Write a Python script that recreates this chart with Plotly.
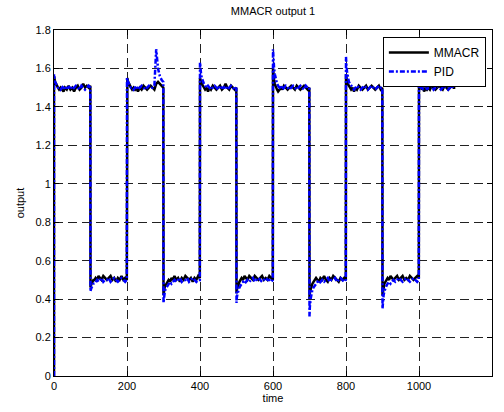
import plotly.graph_objects as go

# ---- data ----
SEG_START = [0, 100, 200, 300, 400, 500, 600, 700, 800, 900, 1000]
OFFSETS = [0, 1, 3, 5, 8, 11, 14, 18, 22, 26, 30, 35, 40, 45, 50, 55, 60, 65, 70, 75, 80, 85, 90, 95, 99.5]
INITIAL_VALUE = 0.0

MMACR = [
    [1.56,1.55,1.53,1.52,1.51,1.50,1.49,1.50,1.49,1.48,1.50,1.49,1.51,1.49,1.50,1.48,1.50,1.51,1.49,1.50,1.52,1.50,1.51,1.50,1.51],
    [0.46,0.47,0.48,0.49,0.50,0.50,0.51,0.50,0.52,0.51,0.50,0.52,0.51,0.50,0.51,0.52,0.50,0.51,0.49,0.51,0.50,0.52,0.50,0.51,0.50],
    [1.54,1.55,1.53,1.52,1.51,1.50,1.49,1.50,1.49,1.50,1.48,1.50,1.49,1.51,1.50,1.49,1.50,1.51,1.50,1.49,1.52,1.53,1.52,1.51,1.50],
    [0.42,0.44,0.46,0.47,0.48,0.49,0.50,0.49,0.51,0.50,0.52,0.50,0.51,0.49,0.51,0.50,0.52,0.51,0.50,0.51,0.49,0.51,0.50,0.52,0.51],
    [1.55,1.54,1.53,1.52,1.51,1.50,1.49,1.50,1.48,1.50,1.49,1.51,1.50,1.49,1.50,1.51,1.49,1.50,1.52,1.50,1.49,1.51,1.50,1.49,1.50],
    [0.43,0.45,0.46,0.48,0.49,0.50,0.51,0.50,0.52,0.51,0.50,0.52,0.51,0.50,0.52,0.51,0.50,0.51,0.52,0.50,0.51,0.50,0.52,0.51,0.50],
    [1.60,1.57,1.54,1.52,1.50,1.49,1.48,1.49,1.50,1.49,1.51,1.50,1.49,1.50,1.51,1.50,1.49,1.51,1.50,1.49,1.50,1.51,1.50,1.49,1.50],
    [0.40,0.43,0.45,0.47,0.48,0.49,0.50,0.51,0.50,0.49,0.51,0.50,0.52,0.50,0.49,0.51,0.50,0.52,0.51,0.50,0.49,0.51,0.50,0.51,0.50],
    [1.57,1.55,1.53,1.52,1.51,1.50,1.49,1.50,1.48,1.50,1.49,1.51,1.50,1.49,1.50,1.51,1.49,1.50,1.51,1.50,1.49,1.50,1.51,1.49,1.50],
    [0.42,0.44,0.46,0.48,0.49,0.50,0.51,0.50,0.52,0.51,0.50,0.51,0.52,0.50,0.51,0.52,0.50,0.51,0.50,0.52,0.51,0.50,0.51,0.52,0.51],
    [1.53,1.52,1.51,1.50,1.49,1.50,1.48,1.50,1.49,1.50,1.49,1.51,1.50,1.49,1.50,1.51,1.50,1.49,1.51,1.50,1.49,1.50,1.51,1.50,1.50],
]

PID = [
    [1.57,1.55,1.53,1.52,1.51,1.50,1.50,1.49,1.50,1.51,1.49,1.50,1.50,1.51,1.49,1.50,1.51,1.50,1.49,1.51,1.50,1.49,1.50,1.51,1.50],
    [0.44,0.45,0.46,0.47,0.48,0.48,0.49,0.50,0.49,0.50,0.51,0.49,0.50,0.50,0.51,0.49,0.50,0.51,0.50,0.49,0.50,0.51,0.50,0.49,0.50],
    [1.55,1.54,1.53,1.52,1.51,1.50,1.50,1.49,1.50,1.51,1.49,1.50,1.51,1.50,1.49,1.50,1.51,1.50,1.50,1.51,1.70,1.60,1.56,1.54,1.53],
    [0.38,0.41,0.43,0.45,0.46,0.47,0.48,0.49,0.48,0.49,0.50,0.49,0.50,0.51,0.49,0.50,0.50,0.51,0.49,0.50,0.51,0.50,0.49,0.50,0.50],
    [1.63,1.60,1.57,1.55,1.53,1.52,1.51,1.50,1.51,1.50,1.49,1.50,1.51,1.50,1.49,1.51,1.50,1.50,1.51,1.49,1.50,1.51,1.50,1.49,1.50],
    [0.38,0.41,0.43,0.45,0.46,0.47,0.48,0.49,0.48,0.49,0.50,0.49,0.50,0.51,0.49,0.50,0.51,0.50,0.49,0.50,0.51,0.50,0.50,0.49,0.50],
    [1.70,1.65,1.60,1.57,1.54,1.52,1.51,1.50,1.51,1.49,1.50,1.51,1.50,1.49,1.50,1.51,1.50,1.49,1.50,1.51,1.50,1.49,1.51,1.50,1.50],
    [0.31,0.36,0.40,0.43,0.45,0.46,0.47,0.48,0.49,0.48,0.49,0.50,0.49,0.50,0.51,0.49,0.50,0.50,0.51,0.49,0.50,0.51,0.50,0.49,0.50],
    [1.66,1.62,1.58,1.55,1.53,1.52,1.51,1.50,1.49,1.50,1.51,1.50,1.49,1.50,1.51,1.50,1.49,1.50,1.51,1.50,1.49,1.50,1.51,1.50,1.50],
    [0.35,0.39,0.42,0.44,0.46,0.47,0.48,0.49,0.48,0.49,0.50,0.49,0.50,0.51,0.50,0.49,0.50,0.51,0.50,0.49,0.50,0.51,0.50,0.49,0.50],
    [1.53,1.52,1.51,1.50,1.50,1.49,1.50,1.51,1.49,1.50,1.50,1.51,1.49,1.50,1.51,1.50,1.49,1.50,1.51,1.50,1.49,1.50,1.51,1.50,1.50],
]

X_TICKS = [0, 200, 400, 600, 800, 1000, 1200]
Y_TICKS = [0, 0.2, 0.4, 0.6, 0.8, 1, 1.2, 1.4, 1.6, 1.8]


def build(series):
    xs, ys = [0], [INITIAL_VALUE]
    for start, vals in zip(SEG_START, series):
        for off, v in zip(OFFSETS, vals):
            xs.append(start + off)
            ys.append(v)
    return xs, ys


FONT = "Liberation Sans, Arial, Helvetica, sans-serif"

fig = go.Figure()
x1, y1 = build(MMACR)
x2, y2 = build(PID)
fig.add_trace(go.Scatter(x=x1, y=y1, mode="lines", name="MMACR",
                         line=dict(color="black", width=2.5)))
fig.add_trace(go.Scatter(x=x2, y=y2, mode="lines", name="PID",
                         line=dict(color="#0000ff", width=2.5, dash="5px,2px,2px,2px")))

axis_common = dict(showline=True, linecolor="black", linewidth=1, mirror="ticks",
                   ticks="inside", ticklen=5, tickcolor="black", automargin=False,
                   showgrid=True, gridcolor="#222222", gridwidth=1, griddash="9px,5px",
                   zeroline=False, tickfont=dict(family=FONT, size=11, color="black"))

fig.update_xaxes(range=[0, 1200], tickvals=X_TICKS,
                 title=dict(text="time", font=dict(family=FONT, size=11, color="black"), standoff=2),
                 **axis_common)
fig.update_yaxes(range=[0, 1.8], tickvals=Y_TICKS,
                 title=dict(text="output", font=dict(family=FONT, size=11, color="black"), standoff=8),
                 **axis_common)

fig.update_layout(
    width=504, height=412,
    margin=dict(l=54, r=12, t=30, b=36),
    paper_bgcolor="white", plot_bgcolor="white",
    title=dict(text="MMACR output 1", x=0.5, xref="paper", xanchor="center",
               y=0.972, yanchor="middle", automargin=False,
               font=dict(family=FONT, size=11, color="black")),
    legend=dict(x=0.986, y=0.98, xanchor="right", yanchor="top",
                bgcolor="white", bordercolor="black", borderwidth=1,
                font=dict(family=FONT, size=12, color="black"),
                tracegroupgap=0, itemwidth=40),
    showlegend=True,
)

fig.write_html("out.html")
